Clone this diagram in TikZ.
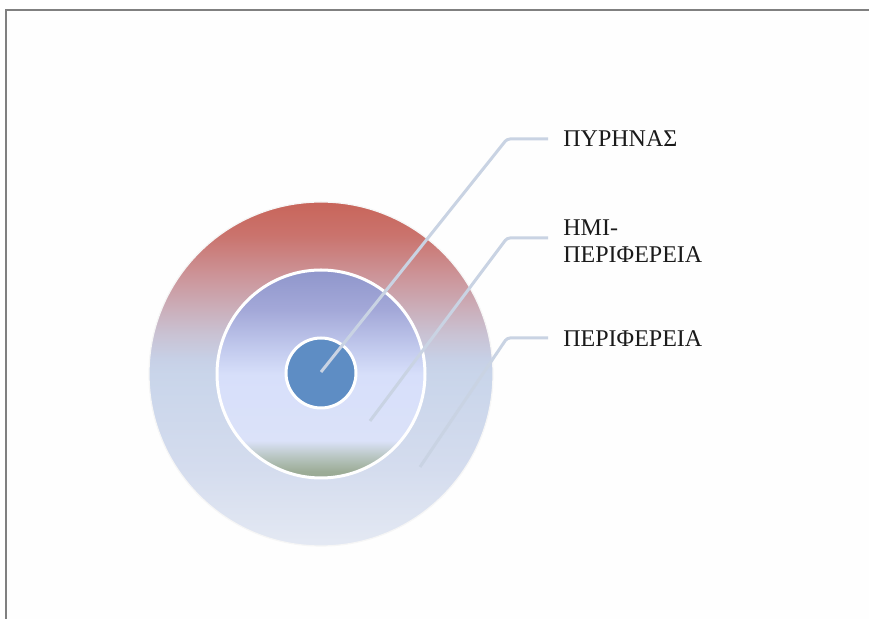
\documentclass[tikz,border=0pt]{standalone}
\usepackage{fontspec}
\setmainfont{Liberation Serif}
\usepackage{tikz}
\usetikzlibrary{positioning}
\usepackage{xcolor}
\definecolor{leader}{HTML}{C9D3E3}
\definecolor{core}{HTML}{5E8DC4}
\definecolor{frame}{HTML}{808080}
\definecolor{labeltxt}{HTML}{1A1A1A}

% vertical fills of the two rings (path box = 25bp..75bp)
\definecolor{mA}{HTML}{98A892}
\definecolor{mB}{HTML}{9DAD98}
\definecolor{mC}{HTML}{BAC7C4}
\definecolor{mD}{HTML}{DBE2F9}
\definecolor{mE}{HTML}{D7DFFA}
\definecolor{mF}{HTML}{C3CBEE}
\definecolor{mG}{HTML}{A3A8D8}
\definecolor{mH}{HTML}{8F96CB}
\definecolor{oA}{HTML}{E4E9F3}
\definecolor{oB}{HTML}{D4DCEE}
\definecolor{oC}{HTML}{C9D5EA}
\definecolor{oD}{HTML}{C7D0E6}
\definecolor{oE}{HTML}{C9C2D3}
\definecolor{oF}{HTML}{CBABB5}
\definecolor{oG}{HTML}{CC9397}
\definecolor{oH}{HTML}{CA736D}
\definecolor{oI}{HTML}{C8655A}
\pgfdeclareverticalshading{outerfill}{100bp}{
  color(0bp)=(oA); color(25bp)=(oA); color(36.3bp)=(oB); color(50bp)=(oC);
  color(52.2bp)=(oD); color(55.8bp)=(oE); color(60.1bp)=(oF);
  color(64.5bp)=(oG); color(70.2bp)=(oH); color(75bp)=(oI); color(100bp)=(oI)}
\pgfdeclareverticalshading{middlefill}{100bp}{
  color(0bp)=(mA); color(25bp)=(mA); color(26.7bp)=(mB); color(30.3bp)=(mC);
  color(34bp)=(mD); color(49.8bp)=(mE); color(55.8bp)=(mF);
  color(65.5bp)=(mG); color(75bp)=(mH); color(100bp)=(mH)}

\tikzset{
  ring/.style={circle, inner sep=0pt, draw=white},
  leaderline/.style={draw=leader, line width=1.5pt, rounded corners=1.5pt},
  ringlabel/.style={anchor=west, inner xsep=7.5pt, inner ysep=0pt, align=left,
    text=labeltxt, font=\fontsize{12}{13.5}\selectfont}
}

\begin{document}
\begin{tikzpicture}[x=0.5pt, y=-0.5pt]
  \useasboundingbox (0,0) rectangle (869,619);
  % page edge
  \fill[white!99!gray] (6,10) rectangle (869,619);
  \draw[frame, line width=1pt] (6,619) -- (6,10) -- (869,10);

  % rings
  \node[ring, shading=outerfill, draw=white!93!gray, line width=0.6pt, minimum size=172pt] (periphery) at (321,374) {};
  \node[ring, shading=middlefill, line width=1.5pt, minimum size=104pt] (semiperiphery) at (321,374) {};
  \node[ring, fill=core, line width=1.5pt, minimum size=35pt] (nucleus) at (321,373) {};

  % labels
  \node[ringlabel] (nucleuslbl) at (548,139) {ΠΥΡΗΝΑΣ};
  \node[ringlabel] (semilbl) at (548,241) {ΗΜΙ-\\ΠΕΡΙΦΕΡΕΙΑ};
  \node[ringlabel] (peripherylbl) at (548,339) {ΠΕΡΙΦΕΡΕΙΑ};

  % leader lines
  \coordinate (s1) at (321,372);
  \coordinate (s2) at (370,421);
  \coordinate (s3) at (420,467);
  \coordinate (k1) at (507,139);
  \coordinate (k2) at (507,238);
  \coordinate (k3) at (507,338);
  \draw[leaderline] (s1) -- (k1) -- (k1 -| nucleuslbl.west);
  \draw[leaderline] (s2) -- (k2) -- (k2 -| semilbl.west);
  \draw[leaderline] (s3) -- (k3) -- (k3 -| peripherylbl.west);
\end{tikzpicture}
\end{document}
